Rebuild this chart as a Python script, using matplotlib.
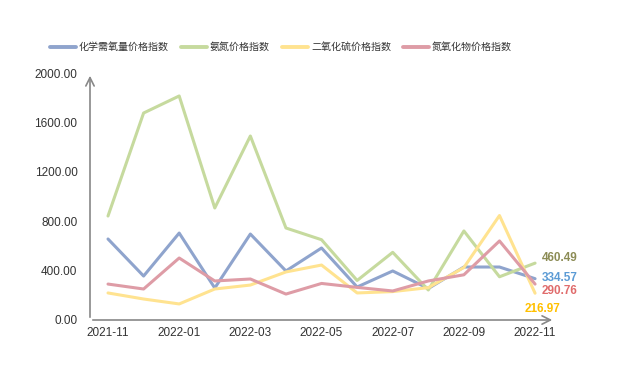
import matplotlib
matplotlib.use("Agg")
import matplotlib.pyplot as plt

plt.rcParams['font.family'] = ['Liberation Sans', 'Noto Sans CJK SC', 'DejaVu Sans']

months = ["2021-11", "2021-12", "2022-01", "2022-02", "2022-03", "2022-04", "2022-05",
          "2022-06", "2022-07", "2022-08", "2022-09", "2022-10", "2022-11"]
cod = [656, 356, 704, 259, 696, 397, 583, 267, 397, 255, 429, 429, 334.57]
nh3 = [842, 1676, 1814, 907, 1490, 745, 650, 320, 548, 243, 721, 350, 460.49]
so2 = [219, 170, 130, 251, 283, 389, 445, 219, 230, 262, 425, 846, 216.97]
nox = [291, 251, 502, 316, 332, 210, 296, 264, 235, 316, 366, 640, 290.76]
names = ["化学需氧量价格指数", "氨氮价格指数", "二氧化硫价格指数", "氮氧化物价格指数"]
line_colors = ["#8FA4CD", "#C6DA9E", "#FFE390", "#DE9CA6"]
label_colors = ["#5B9BD5", "#8C8C55", "#FFC000", "#E06C6C"]

fig = plt.figure(figsize=(6.28, 3.67), dpi=100)
ax = fig.add_axes([90/628, 1-320/367, (555-90)/628, (320-73)/367])

x = list(range(len(months)))
series = [cod, nh3, so2, nox]
for s, n, c in zip(series, names, line_colors):
    ax.plot(x, s, color=c, lw=2.2, label=n, solid_capstyle='round', solid_joinstyle='round')

ax.set_xlim(-0.506, 12.56)
ax.set_ylim(0, 2000)
yt = [0, 400, 800, 1200, 1600, 2000]
ax.set_yticks(yt)
ax.set_yticklabels([f"{v:.2f}" for v in yt])
ax.set_xticks(x[::2])
ax.set_xticklabels(months[::2])
ax.tick_params(length=0, labelsize=8.5, colors="#333333")
ax.tick_params(axis='y', pad=9)
ax.tick_params(axis='x', pad=5)
for sp in ax.spines.values():
    sp.set_visible(False)

arrow_kw = dict(arrowstyle='->,head_length=0.6,head_width=0.3', color='#888888', lw=1.2)
ax.annotate('', xy=(0, 1.0), xytext=(0, 0), xycoords='axes fraction', arrowprops=arrow_kw)
ax.annotate('', xy=(1.0, 0), xytext=(0, 0), xycoords='axes fraction', arrowprops=arrow_kw)

# end labels
lab_kw = dict(textcoords='offset points', fontsize=8.5, fontweight='bold', va='center')
ax.annotate(f"{nh3[-1]:.2f}", xy=(12, nh3[-1]), xytext=(5, 3.6), color=label_colors[1], ha='left', **lab_kw)
ax.annotate(f"{cod[-1]:.2f}", xy=(12, cod[-1]), xytext=(5, 0.5), color=label_colors[0], ha='left', **lab_kw)
ax.annotate(f"{nox[-1]:.2f}", xy=(12, nox[-1]), xytext=(5, -5), color=label_colors[3], ha='left', **lab_kw)
ax.annotate(f"{so2[-1]:.2f}", xy=(12, so2[-1]), xytext=(5, -11.5), color=label_colors[2], ha='center', **lab_kw)

leg = fig.legend(loc='center left', bbox_to_anchor=(48/628, 1-47/367), ncol=4, frameon=False,
                 fontsize=7.2, handlelength=2.6, handletextpad=0.3, columnspacing=1.2,
                 borderpad=0.2, borderaxespad=0)
for t in leg.get_texts():
    t.set_color("#333333")
for h in leg.legend_handles:
    h.set_linewidth(2.8)

fig.savefig("out.png", dpi=100)
